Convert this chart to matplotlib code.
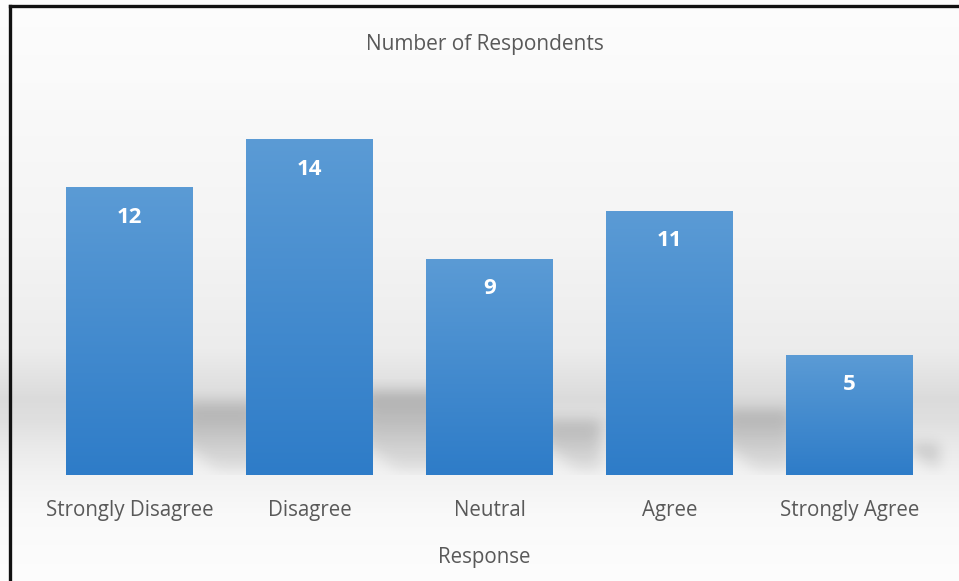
import numpy as np
import matplotlib
matplotlib.use("Agg")
from matplotlib import pyplot as plt
from matplotlib.lines import Line2D

categories = ["Strongly Disagree", "Disagree", "Neutral", "Agree", "Strongly Agree"]
respondents = [12, 14, 9, 11, 5]
title = "Number of Respondents"
xlabel = "Response"

W, H = 959, 581
TXT = "#595959"
plt.rcParams['font.family'] = ['Open Sans', 'DejaVu Sans']


def blur(img, sigma):
    """ separable gaussian blur of a 2d array """
    r = int(3 * sigma)
    k = np.exp(-0.5 * (np.arange(-r, r + 1) / sigma) ** 2)
    k /= k.sum()
    pad = np.pad(img, r, mode='edge')
    out = np.apply_along_axis(lambda m: np.convolve(m, k, mode='same'), 0, pad)
    out = np.apply_along_axis(lambda m: np.convolve(m, k, mode='same'), 1, out)
    return out[r:-r, r:-r]


fig = plt.figure(figsize=(W / 100, H / 100), dpi=100)

# background: soft vertical grey gradient behind the chart
bg = fig.add_axes([0, 0, 1, 1], zorder=0)
bg.set_xlim(0, W)
bg.set_ylim(H, 0)
bg.axis('off')
rows = np.arange(H)
stops_y = [0, 100, 250, 350, 398, 420, 445, 475, 515, 581]
stops_v = [0.992, 0.978, 0.955, 0.925, 0.86, 0.875, 0.915, 0.95, 0.978, 0.992]
col = np.interp(rows, stops_y, stops_v)
grad = np.repeat(col[:, None], W, axis=1)
bg.imshow(np.dstack([grad] * 3), extent=(0, W, H, 0), aspect='auto')

# frame line round the chart (left and top)
fig.add_artist(Line2D([10 / W, 10 / W], [0, 1 - 6 / H], transform=fig.transFigure,
                      color='#111111', lw=2.4, solid_capstyle='projecting'))
fig.add_artist(Line2D([10 / W, 1], [1 - 6 / H, 1 - 6 / H], transform=fig.transFigure,
                      color='#111111', lw=2.4, solid_capstyle='projecting'))

# plot area
left, right, top, bottom = 10, W, 60, 475
ax = fig.add_axes([left / W, (H - bottom) / H, (right - left) / W, (bottom - top) / H], zorder=1)
ax.patch.set_alpha(0)
x = np.arange(len(categories))
width = 0.705
xlim = ((left - 129.5) / 180, (right - 129.5) / 180)
ylim = (0, (bottom - top) / 24)
ax.set_xlim(*xlim)
ax.set_ylim(*ylim)

# perspective shadows cast by the bars
sx = np.linspace(xlim[0], xlim[1], right - left)
sy = np.linspace(-0.5, 4, 108)
gx, gy = np.meshgrid(sx, sy)
shade = np.zeros_like(gx)
for xi, v in zip(x, respondents):
    xr = xi + width / 2
    ytop = 0.25 * v
    reach = min(0.03 * v, 0.4)
    inside = (gx > xr - 0.05) & (gx < xr + reach) & (gy > 0.2) & (gy < ytop)
    wedge = (gx - xr) < 0.15 * (1 - (gy - 0.1) / 0.9)
    m = inside & ~wedge
    strength = 0.07 + 0.13 * np.clip((gy - 0.2) / max(ytop - 0.2, 0.1), 0, 1)
    shade = np.maximum(shade, m * strength)
shade = blur(shade, 7)
rgba = np.zeros(shade.shape + (4,))
rgba[..., 3] = shade
ax.imshow(rgba, extent=(xlim[0], xlim[1], -0.5, 4), origin='lower', aspect='auto', zorder=1)

# bars with a top-to-bottom blue gradient
bars = ax.bar(x, respondents, width=width, color='none', edgecolor='none', zorder=2)
c_top = np.array([91, 155, 213]) / 255
c_bot = np.array([46, 124, 200]) / 255
ramp = np.linspace(0, 1, 256)[:, None]
fill = c_bot + (c_top - c_bot) * ramp
fill = fill[:, None, :]
for b, v in zip(bars, respondents):
    im = ax.imshow(fill, extent=(b.get_x(), b.get_x() + b.get_width(), 0, v),
                   origin='lower', aspect='auto', zorder=3)
    im.set_clip_path(b)
    ax.text(b.get_x() + b.get_width() / 2, v - 1.25, str(v), ha='center', va='center',
            color='white', fontsize=16, fontweight='bold', zorder=4)

ax.set_xlim(*xlim)
ax.set_ylim(*ylim)
ax.set_xticks(x, categories, fontsize=14.8, color=TXT)
ax.tick_params(axis='x', length=0, pad=18)
ax.set_yticks([])
for s in ax.spines.values():
    s.set_visible(False)
ax.set_title(title, fontsize=15, color=TXT, pad=7)
ax.set_xlabel(xlabel, fontsize=14.8, color=TXT, labelpad=19)

fig.savefig("out.png", dpi=100)
